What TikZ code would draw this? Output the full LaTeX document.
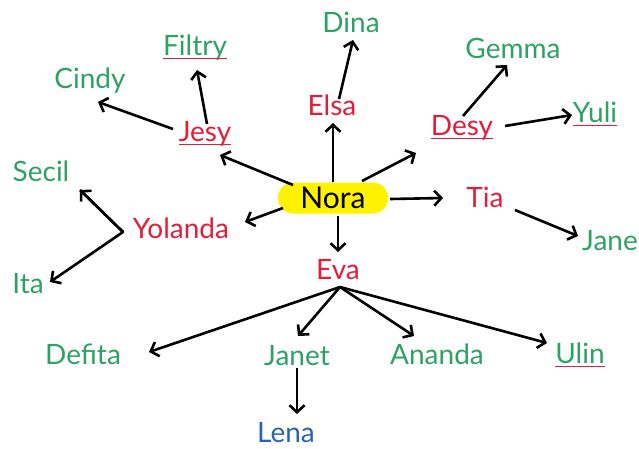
\documentclass[tikz,border=0pt]{standalone}
\usepackage{fontspec}
\setmainfont{Lato}
\usetikzlibrary{arrows.meta,calc}
\definecolor{ngreen}{RGB}{46,162,100}
\definecolor{nred}{RGB}{226,30,58}
\definecolor{nblue}{RGB}{40,100,175}
\definecolor{nyellow}{RGB}{255,242,0}
\tikzset{
  nm/.style={inner sep=0pt, anchor=base, font=\fontsize{28}{32}\selectfont},
  gname/.style={nm, text=ngreen},
  rname/.style={nm, text=nred},
  bname/.style={nm, text=nblue},
  arr/.style={line width=2.6pt, -{Straight Barb[length=7pt,width=15pt]}},
  spell/.style={nred, line width=0.8pt},
}
\begin{document}
\begin{tikzpicture}[x=1pt,y=-1pt]
\useasboundingbox (0,0) rectangle (639,448);
\node[fill=nyellow, rounded corners=15pt, minimum width=110pt, minimum height=31pt, inner sep=0pt, font=\fontsize{30}{34}\selectfont] (Nora) at (333,198) {Nora};
\node[gname] (Dina) at (351,32) {Dina};
\node[gname] (Filtry) at (195,55) {Filtry};
\node[gname] (Cindy) at (90,88) {Cindy};
\node[gname] (Gemma) at (513,58) {Gemma};
\node[rname] (Elsa) at (332,115) {Elsa};
\node[gname] (Yuli) at (595,122) {Yuli};
\node[rname] (Desy) at (462,135) {Desy};
\node[rname] (Jesy) at (205,141) {Jesy};
\node[gname] (Secil) at (41,181) {Secil};
\node[rname] (Tia) at (485,207) {Tia};
\node[rname] (Yolanda) at (181,238) {Yolanda};
\node[gname] (Jane) at (610,250) {Jane};
\node[rname] (Eva) at (338,279) {Eva};
\node[gname] (Ita) at (28,293) {Ita};
\node[gname] (Defita) at (83,364) {Defita};
\node[gname] (Janet) at (297,365) {Janet};
\node[gname] (Ananda) at (437,364) {Ananda};
\node[gname] (Ulin) at (580,363) {Ulin};
\node[bname] (Lena) at (286,442) {Lena};
% spell-check underlines
\foreach \n in {Filtry,Jesy,Desy,Yuli,Ulin}
  \draw[spell] ($(\n.base west)+(0,3)$) -- ($(\n.base east)+(0,3)$);
% arrows from Nora
\draw[arr] ($(Nora.center)+(-40,-13)$) -- ($(Jesy.base)+(15,14)$);
\draw[arr] ($(Nora.center)+(-50,10)$) -- ($(Yolanda.base)+(64,-16)$);
\draw[arr] ($(Nora.center)+(0,-16)$) -- ($(Elsa.base)+(1,8)$);
\draw[arr] ($(Nora.center)+(29,-17)$) -- ($(Desy.base)+(-46,18)$);
\draw[arr] ($(Nora.center)+(57,1)$) -- ($(Tia.base)+(-42,-9)$);
\draw[arr] ($(Nora.center)+(5,18)$) -- ($(Eva.base)+(0,-27)$);
% second level
\draw[arr] ($(Elsa.base)+(7,-16)$) -- ($(Dina.base)+(2,8)$);
\draw[arr] ($(Desy.base)+(1,-19)$) -- ($(Gemma.base)+(-6,7)$);
\draw[arr] ($(Desy.base)+(43,-9)$) -- ($(Yuli.base)+(-23,-7)$);
\draw[arr] ($(Tia.base)+(30,3)$) -- ($(Jane.base)+(-32,-14)$);
\draw[arr] ($(Jesy.base)+(-32,-12)$) -- ($(Cindy.base)+(8,14)$);
\draw[arr] ($(Jesy.base)+(2,-17)$) -- ($(Filtry.base)+(2,15)$);
\draw[arr, line join=round] ($(Secil.base)+(39,9)$) -- ($(Yolanda.base)+(-58,-6)$) -- ($(Ita.base)+(22,-11)$);
\draw[arr] ($(Yolanda.base)+(-58,-6)$) -- ($(Secil.base)+(39,9)$);
\draw[arr] ($(Eva.base)+(2,8)$) -- ($(Defita.base)+(66,-12)$);
\draw[arr] ($(Eva.base)+(2,8)$) -- ($(Janet.base)+(1,-29)$);
\draw[arr] ($(Eva.base)+(2,8)$) -- ($(Ananda.base)+(-23,-28)$);
\draw[arr] ($(Eva.base)+(2,8)$) -- ($(Ulin.base)+(-33,-20)$);
\draw[arr] ($(Janet.base)+(0,3)$) -- ($(Lena.base)+(11,-28)$);
\end{tikzpicture}
\end{document}
